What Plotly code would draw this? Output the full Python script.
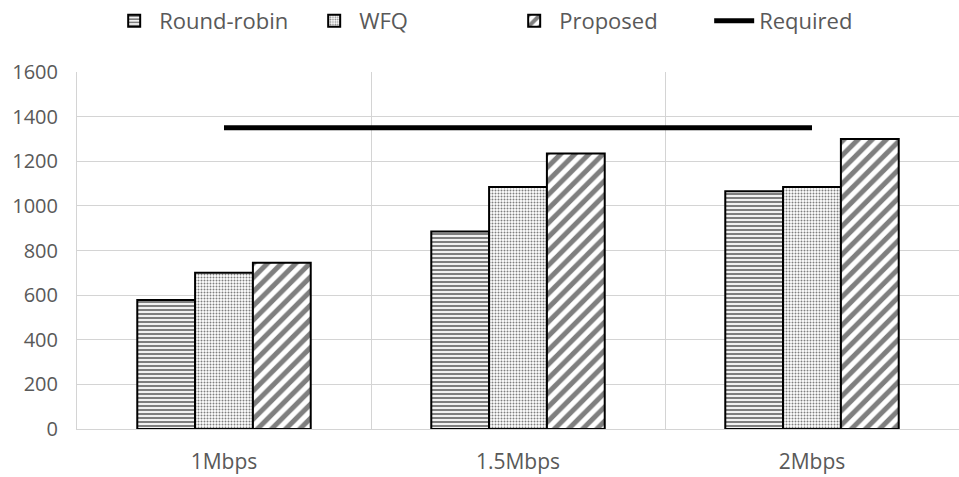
import plotly.graph_objects as go

categories = ["1Mbps", "1.5Mbps", "2Mbps"]
round_robin = [578, 885, 1065]
wfq = [700, 1085, 1085]
proposed = [745, 1235, 1300]
required = [1350, 1350, 1350]
y_ticks = [0, 200, 400, 600, 800, 1000, 1200, 1400, 1600]

FONT = "Open Sans"
TXT = "#595959"
GRID = "#d4d4d4"

fig = go.Figure()
fig.add_trace(go.Bar(
    name="Round-robin", x=categories, y=round_robin,
    marker=dict(color="white", line=dict(color="black", width=2),
                pattern=dict(shape="-", size=4, solidity=0.55, fgcolor="black", bgcolor="white")),
))
fig.add_trace(go.Bar(
    name="WFQ", x=categories, y=wfq,
    marker=dict(color="white", line=dict(color="black", width=2),
                pattern=dict(shape=".", size=3, solidity=0.35, fgcolor="black", bgcolor="white")),
))
fig.add_trace(go.Bar(
    name="Proposed", x=categories, y=proposed,
    marker=dict(color="white", line=dict(color="black", width=2),
                pattern=dict(shape="/", size=10, solidity=0.5, fgcolor="black", bgcolor="white")),
))
fig.add_trace(go.Scatter(
    name="Required", x=categories, y=required, mode="lines",
    line=dict(color="black", width=5),
))

fig.update_layout(
    width=959, height=477,
    margin=dict(l=77, r=0, t=72, b=48),
    paper_bgcolor="white", plot_bgcolor="white",
    barmode="group", bargap=0.41, bargroupgap=0,
    font=dict(family=FONT, color=TXT, size=21),
    showlegend=True,
    legend=dict(orientation="h", x=0.49, xanchor="center", y=1, yanchor="top",
                yref="container", font=dict(size=22, color=TXT, family=FONT),
                itemwidth=40, traceorder="normal",
                entrywidth=145, entrywidthmode="pixels"),
    xaxis=dict(tickson="boundaries", showgrid=True, gridcolor=GRID, gridwidth=1,
               showline=True, linecolor=GRID, linewidth=1, ticks="",
               tickfont=dict(size=21, color=TXT), ticklabelstandoff=14),
    yaxis=dict(range=[0, 1600], tickvals=y_ticks, showgrid=True, gridcolor=GRID,
               gridwidth=1, zeroline=False, showline=True, linecolor=GRID, linewidth=1,
               ticks="", tickfont=dict(size=20, color=TXT), ticklabelstandoff=14),
)

fig.write_html("out.html")
